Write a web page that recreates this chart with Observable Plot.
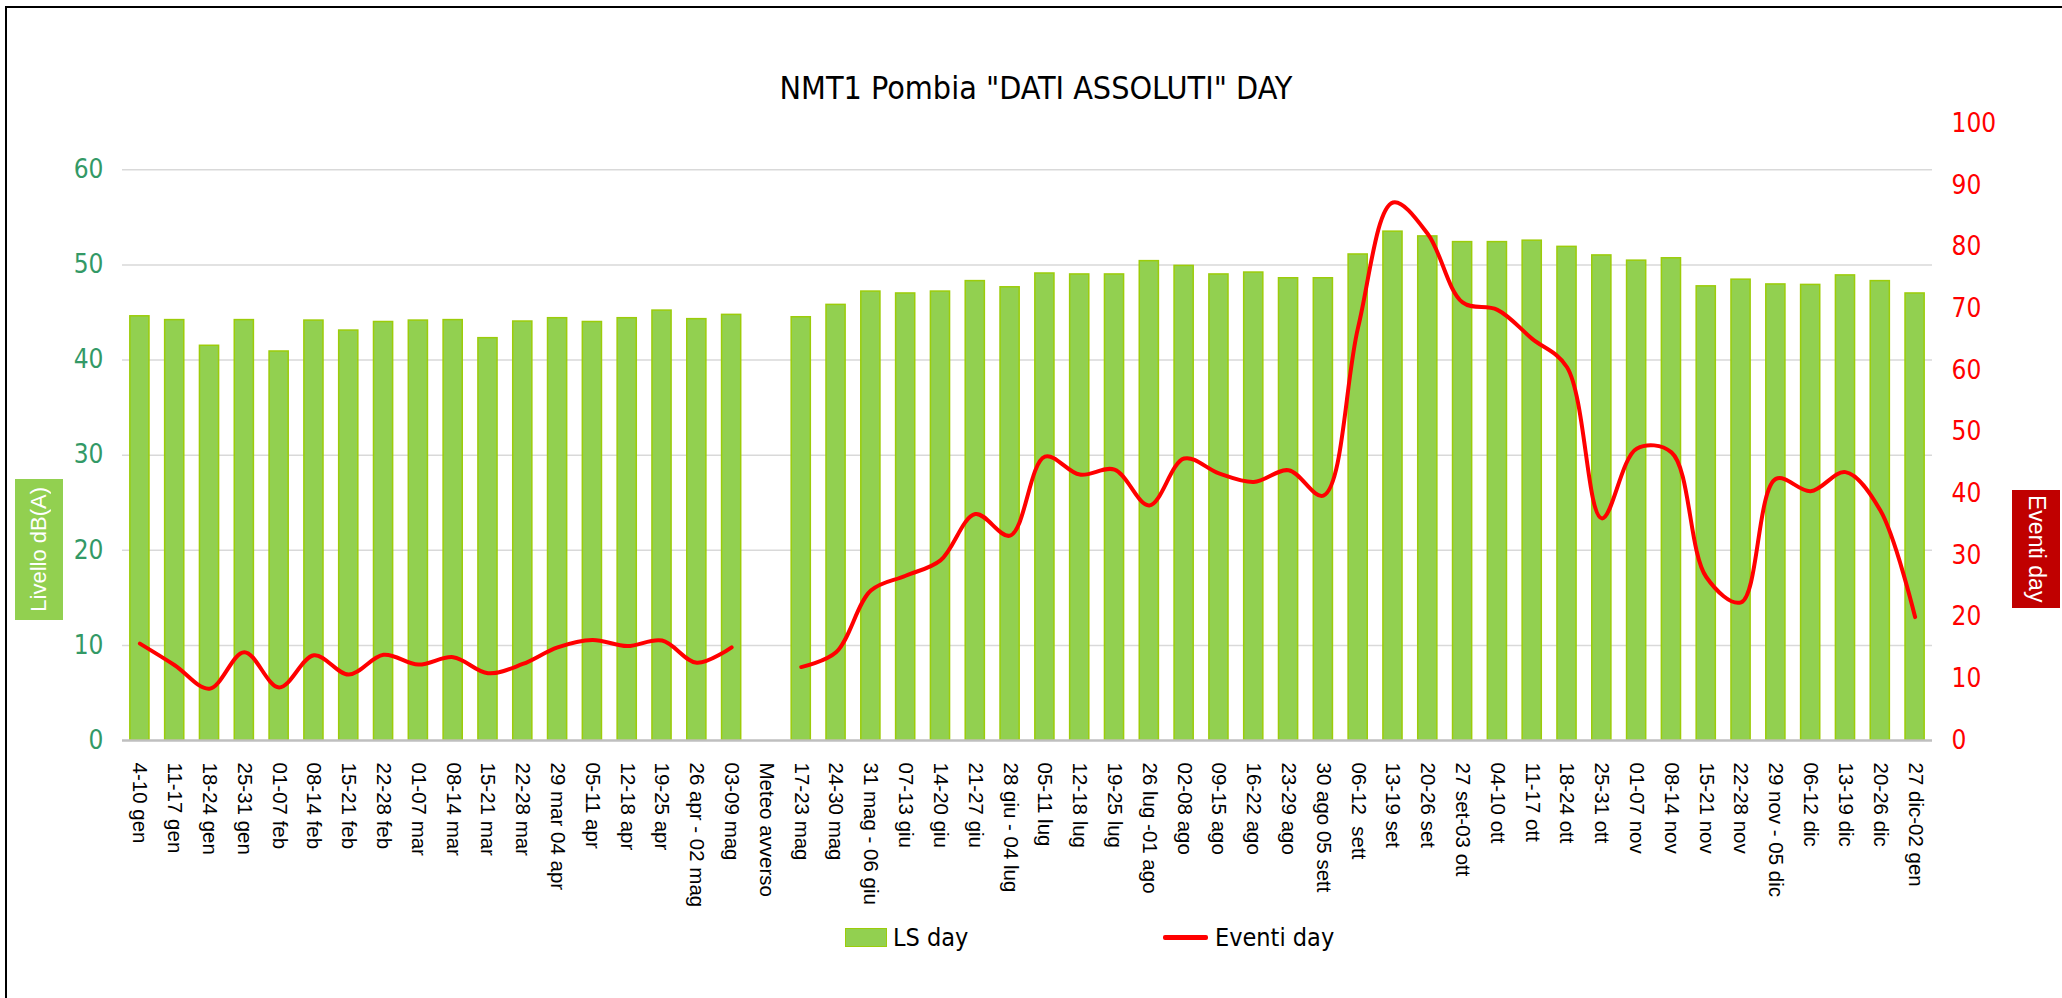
<!DOCTYPE html>
<html>
<head>
<meta charset="utf-8">
<script src="https://cdn.jsdelivr.net/npm/d3@7"></script>
<script src="https://cdn.jsdelivr.net/npm/@observablehq/plot@0.6"></script>
<style>
  html, body { margin: 0; padding: 0; background: #fff; }
  #wrap { position: relative; width: 2062px; height: 998px; overflow: hidden; }
  #chart { position: absolute; left: 0; top: 0; }
  .narrow { font-family: "Liberation Sans Narrow", "Arial Narrow", "DejaVu Sans Condensed", sans-serif; }
  #frame { position: absolute; left: 5px; top: 6px; width: 3000px; height: 3000px;
           border-left: 2.5px solid #000; border-top: 2.5px solid #000; pointer-events: none; }
  #title { position: absolute; left: 5px; width: 2062px; top: 72px; text-align: center;
           font-size: 32px; line-height: 32px; color: #000; }
  .axbox { position: absolute; display: flex; align-items: center; justify-content: center;
           color: #fff; font-family: "Liberation Sans", Arial, sans-serif; }
  .axbox span { writing-mode: vertical-rl; white-space: nowrap; }
  #ltitle { left: 15px; top: 479px; width: 48px; height: 141px; background: #92d050; font-size: 22px; }
  #ltitle span { transform: rotate(180deg); }
  #rtitle { left: 2012px; top: 490px; width: 48px; height: 118px; background: #c00000; font-size: 23px; }
  .leg { position: absolute; font-size: 25px; line-height: 25px; color: #000; }
</style>
</head>
<body>
<div id="wrap">
  <div id="chart"></div>
  <div id="frame"></div>
  <div id="title" class="narrow">NMT1 Pombia "DATI ASSOLUTI" DAY</div>
  <div id="ltitle" class="axbox"><span>Livello dB(A)</span></div>
  <div id="rtitle" class="axbox"><span>Eventi day</span></div>
  <div style="position:absolute;left:845px;top:928px;width:40px;height:17px;background:#92d050;border:1.5px solid #9ccc0a;"></div>
  <div class="leg narrow" style="left:893px;top:925px;">LS day</div>
  <div style="position:absolute;left:1163px;top:935px;width:45px;height:4.5px;background:#ff0000;border-radius:2px;"></div>
  <div class="leg narrow" style="left:1215px;top:925px;">Eventi day</div>
</div>
<script>
const weeks = [
  "4-10 gen", "11-17 gen", "18-24 gen", "25-31 gen", "01-07 feb", "08-14 feb", "15-21 feb", "22-28 feb",
  "01-07 mar", "08-14 mar", "15-21 mar", "22-28 mar", "29 mar 04 apr", "05-11 apr", "12-18 apr", "19-25 apr",
  "26 apr - 02 mag", "03-09 mag", "Meteo avverso", "17-23 mag", "24-30 mag", "31 mag - 06 giu", "07-13 giu",
  "14-20 giu", "21-27 giu", "28 giu - 04 lug", "05-11 lug", "12-18 lug", "19-25 lug", "26 lug -01 ago",
  "02-08 ago", "09-15 ago", "16-22 ago", "23-29 ago", "30 ago 05 sett", "06-12  sett", "13-19 set",
  "20-26 set", "27 set-03 ott", "04-10 ott", "11-17 ott", "18-24 ott", "25-31 ott", "01-07 nov",
  "08-14 nov", "15-21 nov", "22-28 nov", "29 nov - 05 dic", "06-12 dic", "13-19 dic", "20-26 dic", "27 dic-02 gen"
];
const lsDay = [
  44.6, 44.2, 41.5, 44.2, 40.9, 44.15, 43.1, 44.0,
  44.15, 44.2, 42.3, 44.05, 44.4, 44.0, 44.4, 45.2,
  44.3, 44.75, null, 44.5, 45.8, 47.2, 47.0,
  47.2, 48.3, 47.65, 49.1, 49.0, 49.0, 50.4,
  49.9, 49.0, 49.2, 48.6, 48.6, 51.1, 53.5,
  53.0, 52.4, 52.4, 52.55, 51.9, 51.0, 50.45,
  50.7, 47.75, 48.45, 47.95, 47.9, 48.9, 48.3, 47.0
];
const eventiDay = [
  15.7, 12.2, 8.4, 14.3, 8.6, 13.8, 10.7, 13.9,
  12.3, 13.5, 10.9, 12.4, 15.1, 16.3, 15.3, 16.2,
  12.6, 15.1, null, 11.9, 14.3, 24.3, 26.7,
  29.2, 36.7, 33.2, 46.0, 43.1, 43.9, 38.1,
  45.7, 43.3, 41.9, 43.8, 39.7, 67.0, 87.2,
  82.1, 71.0, 69.8, 65.1, 60.5, 36.0, 47.3,
  46.7, 26.5, 22.4, 42.4, 40.4, 43.5, 37.3, 20.0
];
const leftTicks = [0, 10, 20, 30, 40, 50, 60];
const rightTicks = [0, 10, 20, 30, 40, 50, 60, 70, 80, 90, 100];

const leftMax = 64.87;   // left axis value at the top of the plot area
const rightMax = 100;    // right axis value at the top of the plot area
const k = leftMax / rightMax;

const data = weeks.map((w, i) => ({week: w, ls: lsDay[i], ev: eventiDay[i]}));

const narrow = '"Liberation Sans Narrow", "Arial Narrow", "DejaVu Sans Condensed", sans-serif';

const chart = Plot.plot({
  width: 2062,
  height: 998,
  marginLeft: 122,
  marginRight: 130,
  marginTop: 123,
  marginBottom: 258,
  style: {fontFamily: '"Liberation Sans", Arial, sans-serif', background: "transparent", overflow: "visible"},
  x: {domain: weeks, paddingInner: 0.45, paddingOuter: 0.225, label: null},
  y: {domain: [0, leftMax], label: null},
  marks: [
    Plot.gridY(leftTicks.filter(t => t > 0), {stroke: "#d9d9d9", strokeOpacity: 1, strokeWidth: 1.5}),
    Plot.barY(data.filter(d => d.ls != null), {x: "week", y: "ls", fill: "#92d050", stroke: "#9ccc0a", strokeWidth: 1.5}),
    Plot.ruleY([0], {stroke: "#bfbfbf", strokeWidth: 2.5}),
    Plot.lineY(data, {x: "week", y: d => d.ev == null ? NaN : d.ev * k, stroke: "#ff0000", strokeWidth: 4, curve: "catmull-rom"}),
    Plot.axisY(leftTicks, {anchor: "left", tickSize: 0, tickPadding: 19, fill: "#339966", fontSize: 26, fontFamily: narrow, label: null}),
    Plot.axisY(rightTicks.map(t => t * k), {anchor: "right", tickSize: 0, tickPadding: 19, fill: "#ff0000", fontSize: 26, fontFamily: narrow, tickFormat: d => String(Math.round(d / k)), label: null}),
    Plot.axisX({tickRotate: 90, tickSize: 0, tickPadding: 22, fontSize: 20.5, fill: "#000", label: null})
  ]
});
document.getElementById("chart").appendChild(chart);
</script>
</body>
</html>
